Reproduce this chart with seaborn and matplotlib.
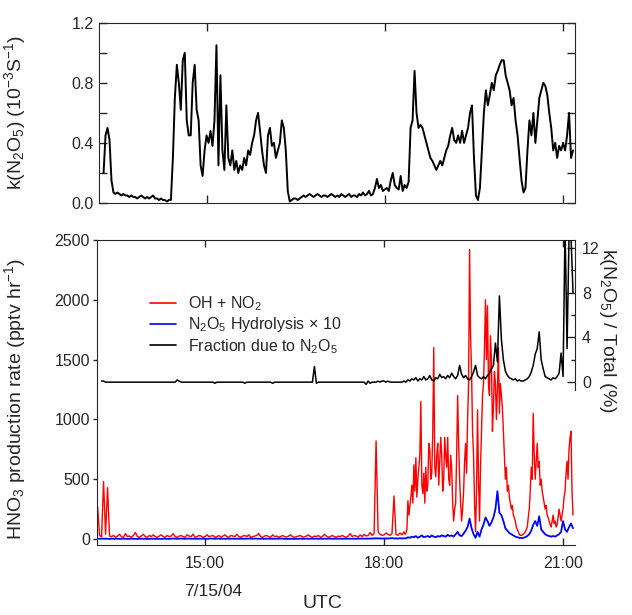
import numpy as np
import pandas as pd
import matplotlib
matplotlib.use("Agg")
import matplotlib.pyplot as plt
from matplotlib.ticker import MultipleLocator, FixedLocator
from matplotlib.lines import Line2D
import seaborn as sns

sns.set_style("ticks")
plt.rcParams["font.family"] = ["Liberation Sans", "DejaVu Sans"]
plt.rcParams["mathtext.fontset"] = "custom"
plt.rcParams["mathtext.rm"] = "Liberation Sans"
plt.rcParams["mathtext.it"] = "Liberation Sans"

# ---- data: 2-minute samples starting 13:12 UTC on 7/15/04 ----
start_hour = 13.2
step_min = 2

# k(N2O5), 1e-3 s^-1
k_n2o5 = [
    np.nan, np.nan, 0.20, 0.45, 0.50, 0.42, 0.15, 0.07, 0.06, 0.07, 0.06, 0.05,
    0.06, 0.05, 0.05, 0.04, 0.05, 0.04, 0.04, 0.03, 0.04, 0.05, 0.04, 0.03,
    # 14:00
    0.04, 0.03, 0.04, 0.05, 0.03, 0.03, 0.02, 0.03, 0.02, 0.02, 0.01, 0.02,
    0.02, 0.30, 0.70, 0.92, 0.80, 0.62, 0.95, 1.00, 0.55, 0.45, 0.45, 0.80,
    0.92, 0.62, 0.55, 0.25, 0.18, 0.35,
    # 15:00
    0.45, 0.40, 0.48, 0.38, 0.55, 1.05, 0.25, 0.85, 0.35, 0.22, 0.65, 0.30,
    0.25, 0.35, 0.22, 0.28, 0.20, 0.25, 0.22, 0.30, 0.25, 0.35, 0.32, 0.40,
    0.45, 0.55, 0.60, 0.48, 0.35, 0.25,
    # 16:00
    0.20, 0.45, 0.50, 0.38, 0.40, 0.30, 0.35, 0.40, 0.55, 0.50, 0.35, 0.08,
    0.01, 0.02, 0.03, 0.03, 0.02, 0.03, 0.04, 0.05, 0.04, 0.05, 0.06, 0.05,
    0.04, 0.05, 0.06, 0.05, 0.04, 0.05,
    # 17:00
    0.05, 0.04, 0.05, 0.06, 0.05, 0.04, 0.05, 0.04, 0.06, 0.05, 0.04, 0.05,
    0.06, 0.04, 0.05, 0.05, 0.04, 0.06, 0.05, 0.07, 0.05, 0.06, 0.08, 0.05,
    0.06, 0.10, 0.16, 0.10, 0.12, 0.08,
    # 18:00
    0.09, 0.10, 0.08, 0.15, 0.20, 0.12, 0.10, 0.09, 0.18, 0.08, 0.12, 0.10,
    0.14, 0.50, 0.55, 0.88, 0.60, 0.50, 0.52, 0.50, 0.45, 0.40, 0.35, 0.30,
    0.28, 0.25, 0.22, 0.25, 0.28, 0.25,
    # 19:00
    0.30, 0.35, 0.38, 0.45, 0.50, 0.42, 0.40, 0.45, 0.40, 0.48, 0.40, 0.45,
    0.50, 0.60, 0.65, 0.30, 0.05, 0.02, 0.10, 0.35, 0.60, 0.75, 0.65, 0.72,
    0.80, 0.75, 0.85, 0.88, 0.92, 0.95,
    # 20:00
    0.95, 0.85, 0.80, 0.75, 0.65, 0.70, 0.55, 0.45, 0.30, 0.15, 0.07, 0.10,
    0.35, 0.55, 0.45, 0.60, 0.40, 0.55, 0.70, 0.75, 0.80, 0.78, 0.72, 0.60,
    0.50, 0.35, 0.40, 0.30, 0.38, 0.35,
    # 21:00
    0.40, 0.35, 0.45, 0.60, 0.30, 0.35,
]

# HNO3 production from OH + NO2, pptv/hr: 2-minute samples 13:12-18:18 ...
p_oh_no2_quiet = [
    270, 30, 20, 480, 40, 430, 25, 20, 30, 15, 25, 40,
    20, 15, 45, 20, 25, 15, 30, 55, 20, 15, 25, 40,
    # 14:00
    20, 15, 30, 20, 35, 20, 15, 25, 35, 20, 15, 30,
    20, 25, 45, 20, 15, 25, 30, 20, 15, 35, 25, 20,
    40, 15, 20, 30, 25, 15,
    # 15:00
    20, 35, 20, 25, 30, 15, 20, 30, 15, 25, 35, 20,
    15, 30, 25, 20, 40, 20, 15, 25, 30, 20, 35, 15,
    20, 25, 30, 45, 20, 15,
    # 16:00
    25, 30, 20, 15, 35, 20, 25, 15, 20, 30, 20, 15,
    25, 35, 20, 15, 20, 25, 30, 15, 20, 25, 35, 20,
    15, 25, 20, 30, 15, 20,
    # 17:00
    40, 25, 15, 20, 30, 20, 15, 25, 20, 30, 20, 15,
    25, 45, 20, 30, 25, 15, 35, 20, 40, 25, 30, 55,
    30, 45, 820, 60, 40, 30,
    # 18:00
    35, 50, 40, 30, 45, 360, 40, 30, 50, 35,
]

# ... and 1-minute samples 18:20-21:10
busy_start_hour = 18 + 20 / 60
p_oh_no2_busy = [
    60, 40, 50, 80, 320, 200, 280, 350, 450, 300,
    620, 400, 680, 350, 500, 600, 700, 1150, 450, 380,
    550, 300, 600, 400, 450, 800, 750, 500, 550, 900,
    1600, 600, 520, 700, 800, 450, 650, 850, 700, 400,
    # 19:00
    500, 850, 700, 600, 850, 500, 450, 700, 600, 300,
    150, 250, 300, 700, 1200, 800, 500, 300, 150, 250,
    400, 650, 800, 550, 1000, 1300, 2420, 1700, 1400, 900,
    700, 300, 60, 400, 1080, 500, 150, 600, 900, 1200,
    1300, 1600, 2000, 1500, 1950, 1300, 1200, 1700, 1500, 900,
    1100, 1400, 1300, 1000, 1250, 1600, 1050, 1300, 1200, 1100,
    # 20:00
    900, 700, 500, 600, 400, 450, 350, 300, 250, 280,
    200, 180, 150, 100, 80, 60, 40, 30, 30, 35,
    40, 50, 60, 80, 100, 180, 250, 400, 600, 500,
    1050, 700, 500, 650, 800, 600, 650, 450, 500, 400,
    350, 300, 250, 280, 200, 180, 150, 120, 100, 150,
    200, 130, 150, 100, 120, 180, 250, 200, 150, 200,
    # 21:00
    250, 350, 400, 550, 650, 500, 750, 850, 900, 400, 200,
]

# HNO3 production from N2O5 hydrolysis (x10), pptv/hr
p_n2o5_x10 = [
    3, 2, 4, 2, 3, 2, 1, 3, 2, 2, 3, 1,
    2, 3, 2, 1, 2, 3, 2, 2, 1, 2, 3, 2,
    # 14:00
    2, 1, 2, 2, 3, 1, 2, 2, 1, 3, 2, 2,
    1, 3, 4, 3, 2, 3, 4, 3, 2, 3, 4, 2,
    3, 2, 2, 3, 2, 3,
    # 15:00
    3, 2, 3, 4, 3, 2, 4, 3, 2, 3, 2, 3,
    2, 3, 3, 2, 3, 2, 3, 3, 2, 3, 4, 3,
    3, 4, 3, 2, 3, 2,
    # 16:00
    2, 3, 3, 2, 3, 2, 3, 3, 4, 3, 2, 1,
    1, 2, 2, 1, 2, 2, 3, 2, 2, 3, 2, 3,
    2, 3, 3, 2, 3, 2,
    # 17:00
    3, 2, 3, 3, 2, 3, 2, 3, 3, 2, 3, 3,
    3, 2, 3, 3, 2, 3, 3, 4, 3, 3, 4, 3,
    4, 5, 6, 5, 5, 4,
    # 18:00
    5, 5, 4, 6, 7, 5, 5, 4, 6, 5, 6, 5,
    15, 10, 20, 15, 25, 10, 20, 30, 15, 20, 25, 15,
    30, 20, 15, 25, 20, 30,
    # 19:00
    25, 20, 35, 25, 30, 20, 40, 60, 30, 25, 45, 70,
    100, 170, 90, 40, 10, 60, 20, 80, 120, 180, 150, 110,
    140, 180, 250, 400, 220, 200,
    # 20:00
    150, 90, 70, 50, 40, 30, 20, 15, 10, 8, 10, 15,
    25, 40, 70, 120, 150, 110, 190, 80, 60, 40, 30, 25,
    20, 25, 20, 30, 40, 60,
    # 21:00
    150, 80, 60, 100, 130, 90,
]

# Fraction of HNO3 production due to N2O5, %
frac_n2o5 = [
    np.nan, np.nan, 0.1, 0.1, 0.0, 0.0, 0.0, 0.0, 0.0, 0.0, 0.0, 0.0,
    0.0, 0.0, 0.0, 0.0, 0.0, 0.0, 0.0, 0.0, 0.0, 0.0, 0.0, 0.0,
    # 14:00
    0.0, 0.0, 0.0, 0.0, 0.0, 0.0, 0.0, 0.0, 0.0, 0.0, 0.0, 0.0,
    0.0, 0.0, 0.0, 0.0, 0.2, 0.1, 0.0, 0.0, 0.0, 0.0, 0.0, 0.0,
    0.0, 0.0, 0.0, 0.0, 0.0, 0.0,
    # 15:00
    0.0, 0.0, 0.0, 0.0, 0.0, -0.1, 0.0, 0.0, 0.0, 0.0, 0.0, 0.0,
    0.0, 0.0, 0.0, 0.0, 0.0, 0.0, 0.0, 0.0, -0.1, 0.0, 0.0, 0.0,
    0.0, 0.0, 0.0, 0.0, 0.0, 0.0,
    # 16:00
    0.0, 0.0, 0.0, 0.0, -0.1, 0.0, 0.0, 0.0, 0.0, 0.0, 0.0, 0.0,
    0.0, 0.0, 0.0, 0.0, 0.0, 0.0, 0.0, 0.0, 0.0, 0.0, 0.0, 0.0,
    0.0, 1.4, -0.1, 0.0, 0.0, 0.0,
    # 17:00
    0.0, 0.0, 0.0, 0.0, 0.0, 0.0, 0.0, 0.0, 0.0, 0.0, 0.0, 0.0,
    0.0, 0.0, 0.0, 0.0, 0.0, 0.0, 0.0, 0.0, 0.0, -0.2, 0.1, -0.1,
    0.0, 0.0, 0.0, 0.1, 0.0, 0.1,
    # 18:00
    0.1, 0.0, 0.1, 0.0, 0.0, 0.0, 0.0, 0.0, 0.0, 0.0, 0.1, 0.0,
    0.2, 0.1, 0.3, 0.2, 0.4, 0.1, 0.3, 0.2, 0.5, 0.2, 0.3, 0.6,
    0.2, 0.1, 0.4, 0.3, 0.7, 0.4,
    # 19:00
    0.5, 0.3, 0.6, 0.4, 0.8, 0.5, 0.3, 0.6, 1.5, 0.7, 0.4, 0.6,
    0.3, 0.2, 0.5, 0.9, 1.5, 0.6, 0.4, 0.3, 0.5, 0.3, 0.6, 0.8,
    1.2, 1.5, 3.5, 1.8, 7.7, 3.8,
    # 20:00
    2.0, 1.0, 0.6, 0.4, 0.3, 0.2, 0.3, 0.1, 0.2, 0.1, 0.1, 0.2,
    0.3, 0.5, 0.9, 1.5, 2.5, 3.0, 4.5, 2.0, 1.2, 0.5, 0.4, 0.3,
    0.2, 0.4, 0.3, 0.5, 0.8, 2.6,
    # 21:00
    0.5, 14.0, 3.0, 13.0, 13.0, 8.0,
]

hour_ticks = [15, 18, 21]
hour_labels = ["15:00", "18:00", "21:00"]

hours = start_hour + np.arange(len(k_n2o5)) * step_min / 60.0
df = pd.DataFrame({
    "hour": hours,
    "k": k_n2o5,
    "n2o5": p_n2o5_x10,
    "frac": frac_n2o5,
})
oh_hours = np.concatenate([
    start_hour + np.arange(len(p_oh_no2_quiet)) * step_min / 60.0,
    busy_start_hour + np.arange(len(p_oh_no2_busy)) / 60.0,
])
df_oh = pd.DataFrame({"hour": oh_hours,
                      "oh": p_oh_no2_quiet + p_oh_no2_busy})

W, H = 632, 615
fig = plt.figure(figsize=(W / 100, H / 100), dpi=100)


def box(x0, y0, x1, y1):
    return [x0 / W, 1 - y1 / H, (x1 - x0) / W, (y1 - y0) / H]


xlim = (13.19, 21.2)
tick_fs = 11.5
label_fs = 14

# ---- upper panel: k(N2O5) ----
ax_k = fig.add_axes(box(99, 22.7, 575, 203))
sns.lineplot(data=df, x="hour", y="k", ax=ax_k, color="black", lw=1.4,
             estimator=None, sort=False)
ax_k.set_xlim(*xlim)
ax_k.xaxis.set_major_locator(FixedLocator(hour_ticks))
ax_k.set_xticklabels([])
ax_k.yaxis.set_major_locator(FixedLocator([0.0, 0.4, 0.8, 1.2]))
ax_k.yaxis.set_minor_locator(MultipleLocator(0.2))
ax_k.set_yticklabels(["0.0", "0.4", "0.8", "1.2"])
ax_k.set_ylim(0, 1.2)
ax_k.tick_params(axis="both", which="both", direction="in", length=6,
                 width=1.0, top=True, right=True, labelsize=tick_fs, pad=4)
ax_k.set_xlabel("")
ax_k.set_ylabel(r"k(N$_2$O$_5$) (10$^{-3}$S$^{-1}$)", fontsize=label_fs)
ax_k.yaxis.set_label_coords(-0.15, 0.5)

# ---- lower panel: HNO3 production ----
ax_p = fig.add_axes(box(97, 240, 575, 545))
sns.lineplot(data=df_oh, x="hour", y="oh", ax=ax_p, color="#ff0000", lw=1.0,
             estimator=None, sort=False)
sns.lineplot(data=df, x="hour", y="n2o5", ax=ax_p, color="#0000ff", lw=1.3,
             estimator=None, sort=False)
ax_p.set_xlim(*xlim)
ax_p.set_ylim(-50, 2500)
ax_p.xaxis.set_major_locator(FixedLocator(hour_ticks))
ax_p.set_xticklabels(hour_labels)
ax_p.yaxis.set_major_locator(FixedLocator([0, 500, 1000, 1500, 2000, 2500]))
ax_p.spines["right"].set_visible(False)
ax_p.tick_params(axis="x", which="both", direction="in", length=5, width=1.0,
                 top=True, labelsize=tick_fs, pad=8)
ax_p.tick_params(axis="y", direction="out", length=3, width=1.0,
                 labelsize=tick_fs, pad=2)
ax_p.set_xlabel("")
ax_p.set_ylabel(r"HNO$_3$ production rate (pptv hr$^{-1}$)", fontsize=label_fs)
ax_p.yaxis.set_label_coords(-0.145, 0.48)

# ---- fraction due to N2O5 on its own right-hand scale ----
ax_f = fig.add_axes(box(97, 240, 575, 390))
ax_f.patch.set_alpha(0)
sns.lineplot(data=df, x="hour", y="frac", ax=ax_f, color="black", lw=1.1,
             estimator=None, sort=False)
ax_f.set_xlim(*xlim)
ax_f.set_ylim(-0.7, 12.7)
for side in ("left", "top", "bottom"):
    ax_f.spines[side].set_visible(False)
ax_f.set_xticks([])
ax_f.yaxis.tick_right()
ax_f.yaxis.set_label_position("right")
ax_f.yaxis.set_major_locator(FixedLocator([0, 4, 8, 12]))
ax_f.yaxis.set_minor_locator(FixedLocator([2, 6, 10]))
ax_f.tick_params(axis="y", which="major", direction="in", length=6, width=1.0,
                 labelsize=tick_fs, pad=5)
ax_f.tick_params(axis="y", which="minor", direction="in", length=3, width=1.0)
ax_f.set_xlabel("")
ax_f.set_ylabel(r"k(N$_2$O$_5$) / Total (%)", fontsize=label_fs, rotation=-90)
ax_f.yaxis.set_label_coords(1.09, 0.4)

handles = [
    Line2D([], [], color="#ff0000", lw=1.2),
    Line2D([], [], color="#0000ff", lw=1.2),
    Line2D([], [], color="black", lw=1.2),
]
labels = [r"OH + NO$_2$", r"N$_2$O$_5$ Hydrolysis $\times$ 10",
          r"Fraction due to N$_2$O$_5$"]
ax_f.legend(handles, labels, loc="upper left", bbox_to_anchor=(0.098, 0.68),
            frameon=False, fontsize=11.5, handlelength=1.6, handletextpad=0.75,
            labelspacing=0.15, borderaxespad=0)

fig.text(213 / W, 1 - 592 / H, "7/15/04", ha="center", va="center",
         fontsize=12.5)
fig.text(322 / W, 1 - 604 / H, "UTC", ha="center", va="center",
         fontsize=label_fs)

fig.savefig("out.png", dpi=100)
